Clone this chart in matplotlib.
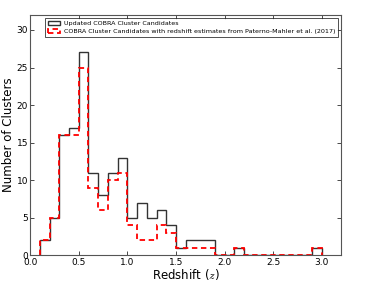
import matplotlib
matplotlib.use("Agg")
import matplotlib.pyplot as plt
import numpy as np

plt.rcParams['mathtext.fontset'] = 'cm'

# Histogram bin edges (redshift) and counts
bin_edges = np.round(np.arange(0.1, 3.01, 0.1), 2)
updated_counts = [2, 5, 16, 17, 27, 11, 8, 11, 13, 5, 7, 5, 6, 4, 1, 2, 2, 2,
                  0, 0, 1, 0, 0, 0, 0, 0, 0, 0, 1]
pm17_counts = [2, 5, 16, 16, 25, 9, 6, 10, 11, 4, 2, 2, 4, 3, 1, 1, 1, 1,
               0, 0, 1, 0, 0, 0, 0, 0, 0, 0, 1]

label_updated = 'Updated COBRA Cluster Candidates'
label_pm17 = 'COBRA Cluster Candidates with redshift estimates from Paterno-Mahler et al. (2017)'

fig = plt.figure(figsize=(3.81, 2.81), dpi=100)
ax = fig.add_axes([0.079, 0.091, 0.817, 0.856])

centers = (bin_edges[:-1] + bin_edges[1:]) / 2
ax.hist(centers, bins=bin_edges, weights=updated_counts, histtype='step',
        color='#333333', linewidth=1.0, label=label_updated)
ax.hist(centers, bins=bin_edges, weights=pm17_counts, histtype='step',
        color='red', linewidth=1.3, linestyle=(0, (3, 2)), label=label_pm17)

ax.set_xlim(0, 3.2)
ax.set_ylim(0, 32)
ax.set_xticks(np.arange(0, 3.01, 0.5))
ax.set_yticks(range(0, 31, 5))
ax.tick_params(direction='in', top=True, right=True, labelsize=6.5, length=3,
               width=0.5, pad=1.5)
for s in ax.spines.values():
    s.set_linewidth(0.8)
    s.set_color('#555555')
ax.set_xlabel('Redshift ($z$)', fontsize=8.5, labelpad=0)
ax.set_ylabel('Number of Clusters', fontsize=8.5, labelpad=1)

leg = ax.legend(loc='upper right', fontsize=4.6, fancybox=False, borderaxespad=0.5,
                handlelength=2.0, labelspacing=0.45, borderpad=0.4, handletextpad=0.6)
leg.get_frame().set_edgecolor('black')
leg.get_frame().set_linewidth(0.6)

fig.savefig('out.png', dpi=100)
